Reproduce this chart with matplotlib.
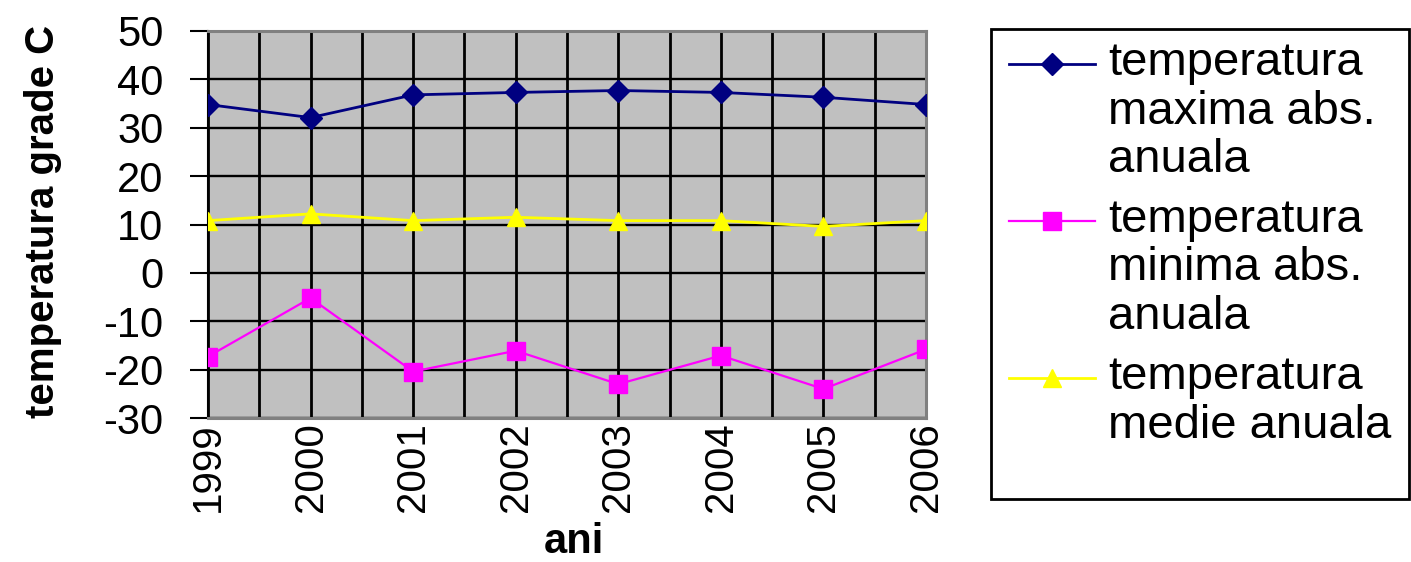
import matplotlib
matplotlib.use('Agg')
import matplotlib.pyplot as plt
from matplotlib.lines import Line2D
from matplotlib.patches import Rectangle
import numpy as np

# Data
years = ['1999', '2000', '2001', '2002', '2003', '2004', '2005', '2006']
temp_max = [34.8, 32.1, 36.8, 37.3, 37.7, 37.3, 36.3, 34.8]
temp_min = [-17.3, -5.2, -20.4, -16.1, -23.0, -17.1, -24.0, -15.8]
temp_med = [10.8, 12.2, 10.8, 11.5, 10.8, 10.8, 9.6, 10.8]
y_ticks = [-30, -20, -10, 0, 10, 20, 30, 40, 50]
series_labels = ['temperatura\nmaxima abs.\nanuala',
                 'temperatura\nminima abs.\nanuala',
                 'temperatura\nmedie anuala']

plt.rcParams['font.family'] = ['Liberation Sans', 'DejaVu Sans']
plt.rcParams['axes.unicode_minus'] = False

W, H = 1411, 562
fig = plt.figure(figsize=(W / 100, H / 100), dpi=100)
ax = fig.add_axes([208 / W, 1 - 418 / H, 718 / W, 387 / H])
ax.set_facecolor('#C0C0C0')

x = np.arange(len(years))

l1, = ax.plot(x, temp_max, color='#000080', lw=2, marker='D', ms=11, zorder=4)
l2, = ax.plot(x, temp_min, color='#FF00FF', lw=1.6, marker='s', ms=13, zorder=4)
l3, = ax.plot(x, temp_med, color='#FFFF00', lw=2, marker='^', ms=13, zorder=4)

ax.set_xlim(0, len(years) - 1)
ax.set_ylim(-30, 50)
ax.set_yticks(y_ticks)
ax.set_xticks(x)
ax.set_xticklabels(years, rotation=90, fontsize=29)
ax.set_xticks(x[:-1] + 0.5, minor=True)

# grid lines
ax.grid(True, which='major', axis='x', color='black', lw=2)
ax.grid(True, which='minor', axis='x', color='black', lw=2)
ax.grid(True, which='major', axis='y', color='black', lw=1.7)
ax.set_axisbelow(True)

ax.tick_params(axis='y', labelsize=30, length=13, width=1.5, pad=19)
ax.tick_params(axis='x', which='both', length=0, pad=3)

for side in ['top', 'right', 'bottom']:
    ax.spines[side].set_color('#808080')
    ax.spines[side].set_linewidth(2.2)
ax.spines['left'].set_color('black')
ax.spines['left'].set_linewidth(1.5)

ax.set_ylabel('temperatura grade C', fontsize=29, fontweight='bold')
ax.yaxis.set_label_coords(-0.203, 0.509)
ax.set_xlabel('ani', fontsize=30, fontweight='bold')
ax.xaxis.set_label_coords(0.51, -0.27)

# legend box drawn by hand to match the reference layout
fig.patches.append(Rectangle((991 / W, 1 - 499 / H), 418 / W, 470 / H,
                             transform=fig.transFigure, fill=False,
                             ec='black', lw=2))
handle_y = [64, 221, 378]
first_base = [75, 232, 389]
line_step = 48.5
for line, label, hy, by in zip([l1, l2, l3], series_labels, handle_y, first_base):
    fig.lines.append(Line2D([1009 / W, 1052 / W, 1095 / W], [1 - hy / H] * 3,
                            transform=fig.transFigure, color=line.get_color(),
                            lw=line.get_linewidth(), marker=line.get_marker(),
                            ms=line.get_markersize(), markevery=[1]))
    for i, txt in enumerate(label.split('\n')):
        fig.text(1108 / W, 1 - (by + i * line_step) / H, txt, fontsize=34,
                 ha='left', va='baseline')

fig.savefig('out.png', dpi=100)
